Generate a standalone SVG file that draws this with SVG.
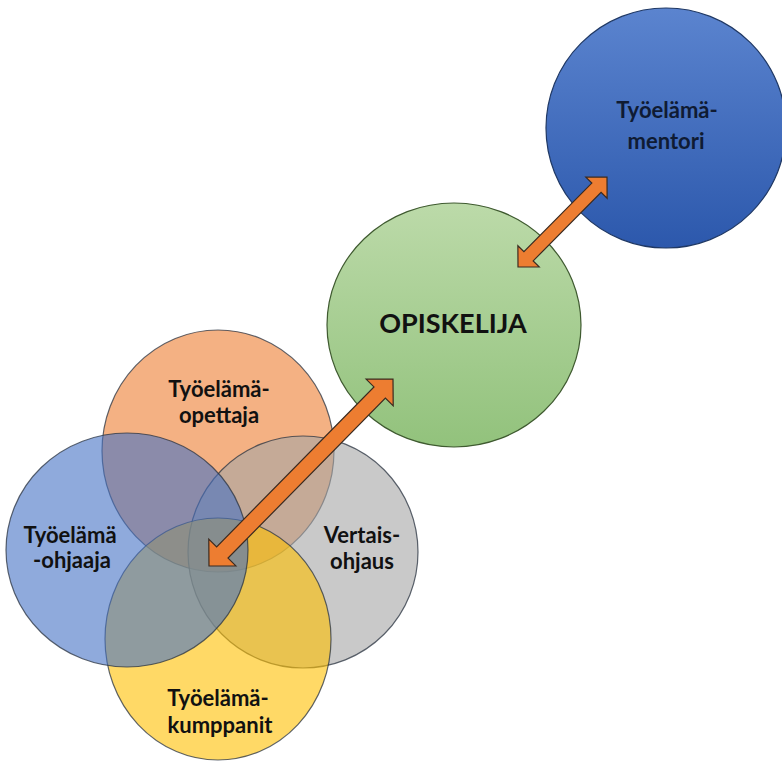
<svg xmlns="http://www.w3.org/2000/svg" width="782" height="766" viewBox="0 0 782 766">
<defs>
<linearGradient id="gBlue" x1="0" y1="0" x2="0" y2="1">
<stop offset="0" stop-color="#5B84CF"/>
<stop offset="1" stop-color="#2C58AC"/>
</linearGradient>
<linearGradient id="gGreen" x1="0" y1="0" x2="0" y2="1">
<stop offset="0" stop-color="#BCDAA9"/>
<stop offset="1" stop-color="#92C27C"/>
</linearGradient>
<style>
.lbl{font-family:Lato,"Open Sans","Liberation Sans",sans-serif;font-weight:bold;font-size:22px;fill:#111111;text-anchor:middle}
.big{font-size:27px}
.venn{fill-opacity:0.6;stroke:#2A3340;stroke-opacity:0.75;stroke-width:1.2}
.arrow{fill:#ED7D31;stroke:#3A2A20;stroke-width:1.2;stroke-linejoin:miter}
</style>
</defs>
<rect width="782" height="766" fill="#FFFFFF"/>
<g id="node-mentori">
<ellipse cx="666" cy="128" rx="120" ry="120" fill="url(#gBlue)" stroke="#1F3864" stroke-width="1.2"/>
<text class="lbl" x="667" y="118" fill="#0F1B33" style="fill:#0F1B33">Työelämä-</text>
<text class="lbl" x="666" y="149" style="fill:#0F1B33">mentori</text>
</g>
<g id="node-opiskelija">
<ellipse cx="454" cy="325" rx="127" ry="122" fill="url(#gGreen)" stroke="#3F5A30" stroke-width="1.2"/>
<text class="lbl big" x="453" y="333">OPISKELIJA</text>
</g>
<g id="node-opettaja">
<ellipse class="venn" cx="218" cy="451" rx="116" ry="121" fill="#ED7D31"/>
</g>
<g id="node-vertais">
<ellipse class="venn" cx="303" cy="552" rx="115" ry="116" fill="#A5A5A5"/>
</g>
<g id="node-kumppanit">
<ellipse class="venn" cx="218" cy="639" rx="113" ry="121" fill="#FFC000"/>
</g>
<g id="node-ohjaaja">
<ellipse class="venn" cx="127" cy="550" rx="121" ry="117" fill="#4472C4"/>
</g>
<g id="labels">
<text class="lbl" x="219" y="397">Työelämä-</text>
<text class="lbl" x="219" y="423">opettaja</text>
<text class="lbl" x="70" y="543">Työelämä</text>
<text class="lbl" x="72" y="568">-ohjaaja</text>
<text class="lbl" x="362" y="543">Vertais-</text>
<text class="lbl" x="362" y="569">ohjaus</text>
<text class="lbl" x="218" y="706">Työelämä-</text>
<text class="lbl" x="220" y="733">kumppanit</text>
</g>
<g id="connectors">
<polygon class="arrow" points="518,267 539.22,266.88 533.17,260.90 601.07,192.24 607.12,198.22 607,177 585.78,177.12 591.83,183.10 523.93,251.76 517.88,245.78"/>
<polygon class="arrow" points="209,566 235.87,565.79 228.03,558.07 385.37,398.15 393.21,405.87 393,379 366.13,379.21 373.97,386.93 216.63,546.85 208.79,539.13"/>
</g>
</svg>
